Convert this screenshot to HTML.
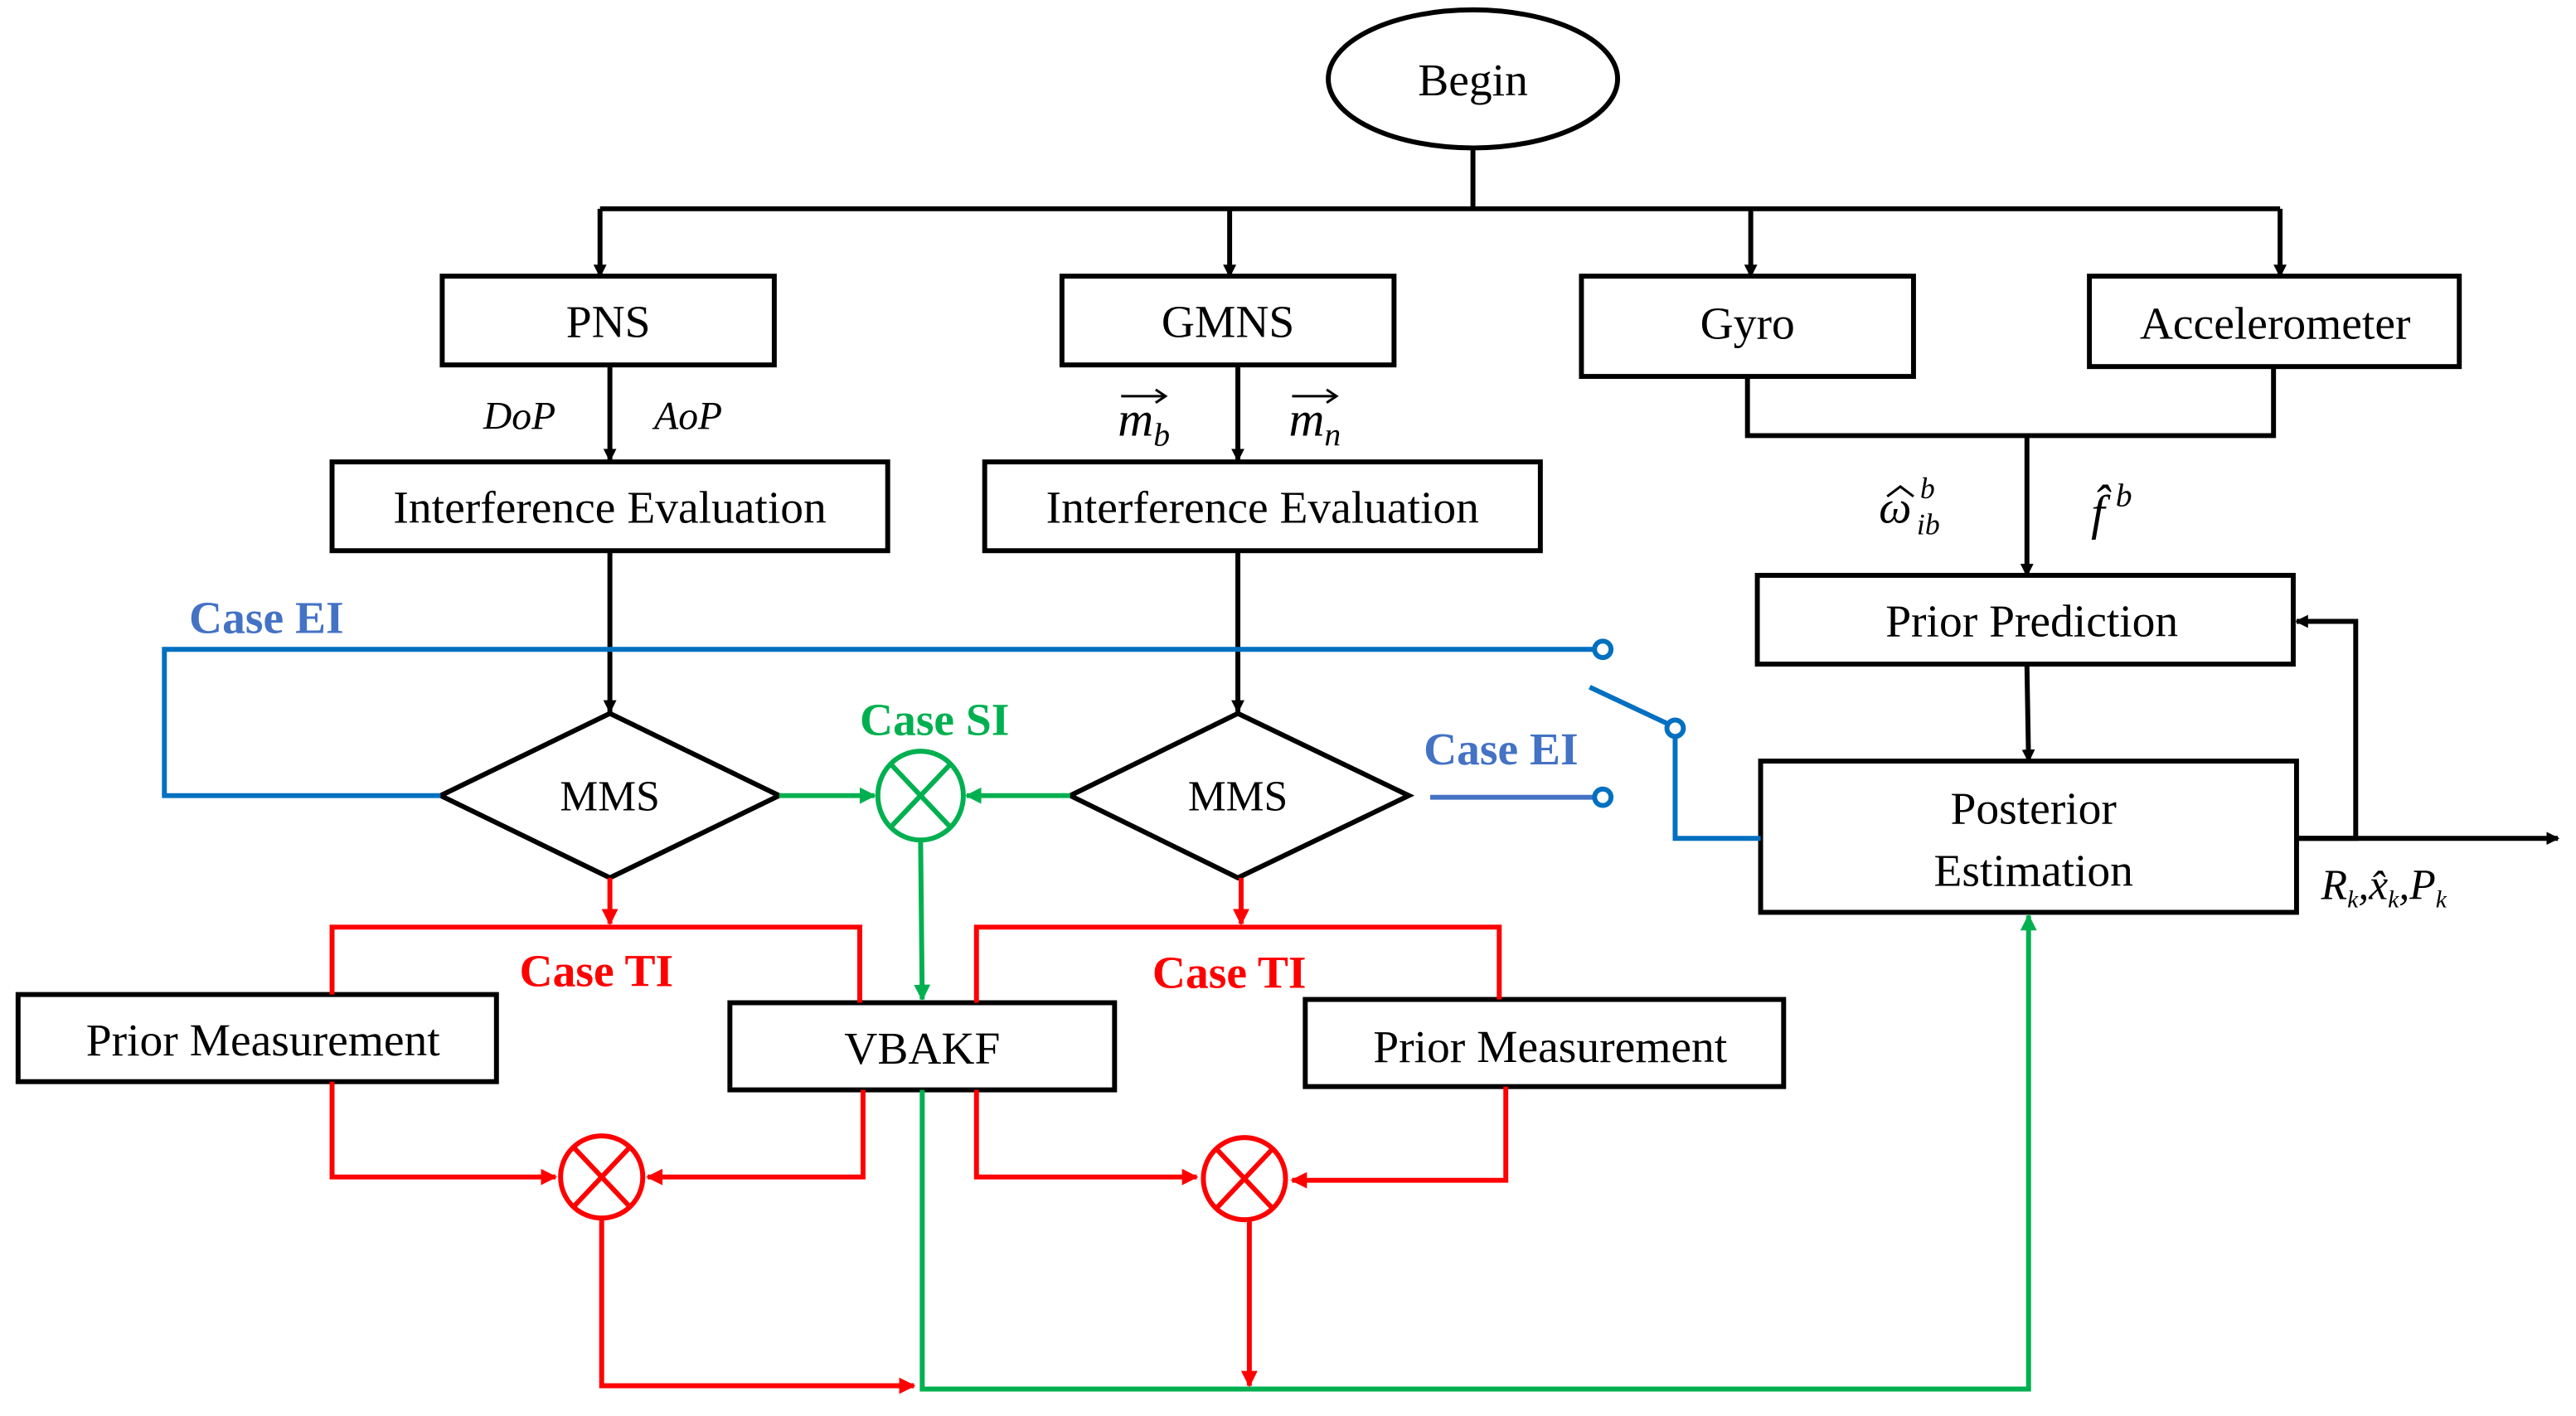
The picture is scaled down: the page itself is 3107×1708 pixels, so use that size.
<!DOCTYPE html>
<html><head><meta charset="utf-8"><style>html,body{margin:0;padding:0;background:#fff}svg{display:block}svg text{font-family:"Liberation Serif","Times New Roman",serif}</style></head>
<body>
<svg width="3107" height="1708" viewBox="0 0 1567 861.4" preserveAspectRatio="none" xmlns="http://www.w3.org/2000/svg">
<defs>
<marker id="ak" markerWidth="8" markerHeight="8" refX="7" refY="4" orient="auto" markerUnits="userSpaceOnUse"><path d="M0,0 L8,4 L0,8 Z" fill="#000"/></marker>
<marker id="ar" markerWidth="10" markerHeight="10" refX="9" refY="5" orient="auto" markerUnits="userSpaceOnUse"><path d="M0,0 L10,5 L0,10 Z" fill="#f00"/></marker>
<marker id="ag" markerWidth="10" markerHeight="10" refX="9" refY="5" orient="auto" markerUnits="userSpaceOnUse"><path d="M0,0 L10,5 L0,10 Z" fill="#00b050"/></marker>
</defs>
<g stroke="#000" stroke-width="3" fill="none">
<ellipse cx="896" cy="48" rx="88" ry="42"/>
<line x1="896" y1="90" x2="896" y2="127"/>
<line x1="365" y1="127" x2="1387" y2="127"/>
</g>
<g stroke="#000" stroke-width="3" fill="none" marker-end="url(#ak)">
<line x1="365" y1="127" x2="365" y2="168"/>
<line x1="748" y1="127" x2="748" y2="168"/>
<line x1="1065" y1="127" x2="1065" y2="168"/>
<line x1="1387" y1="127" x2="1387" y2="168"/>
<line x1="371" y1="222" x2="371" y2="280"/>
<line x1="753" y1="222" x2="753" y2="280"/>
<line x1="1233" y1="265" x2="1233" y2="350"/>
<line x1="371" y1="335" x2="371" y2="433"/>
<line x1="753" y1="335" x2="753" y2="433"/>
<line x1="1233" y1="405" x2="1234" y2="463"/>
<polyline points="1398,510 1433,510 1433,378 1397,378"/>
<line x1="1398" y1="510" x2="1556" y2="510"/>
</g>
<g stroke="#000" stroke-width="3" fill="none">
<polyline points="1063,229 1063,265 1383,265 1383,223"/>
<rect x="269" y="168" width="202" height="54"/>
<rect x="646" y="168" width="202" height="54"/>
<rect x="962" y="168" width="202" height="61"/>
<rect x="1271" y="168" width="225" height="55"/>
<rect x="202" y="281" width="338" height="54"/>
<rect x="599" y="281" width="338" height="54"/>
<rect x="1069" y="350" width="326" height="54"/>
<rect x="1071" y="463" width="326" height="92"/>
<polygon points="371,434 474,484 371,534 268,484"/>
<polygon points="753,434 857,484 753,534 651,484"/>
<rect x="11" y="605" width="291" height="53"/>
<rect x="444" y="610" width="234" height="53"/>
<rect x="794" y="608" width="291" height="53"/>
</g>
<g stroke="#0070c0" stroke-width="3" fill="none">
<polyline points="268,484 100,484 100,395 970,395"/>
<circle cx="975" cy="395" r="5" fill="#fff"/>
<line x1="967" y1="418" x2="1016" y2="441"/>
<circle cx="1019" cy="443" r="5" fill="#fff"/>
<polyline points="1019,448 1019,510 1071,510"/>
<line x1="870" y1="485" x2="970" y2="485" stroke="#4472c4"/>
<circle cx="975" cy="485" r="5" fill="#fff"/>
</g>
<g stroke="#00b050" stroke-width="3" fill="none">
<line x1="474" y1="484" x2="532" y2="484" marker-end="url(#ag)"/>
<line x1="651" y1="484" x2="588" y2="484" marker-end="url(#ag)"/>
<ellipse cx="560" cy="484" rx="26" ry="27"/>
<line x1="542" y1="465" x2="578" y2="503"/><line x1="578" y1="465" x2="542" y2="503"/>
<line x1="560" y1="511" x2="561" y2="608" marker-end="url(#ag)"/>
<polyline points="561,663 561,845 1234,845 1234,557" marker-end="url(#ag)"/>
</g>
<g stroke="#f00" stroke-width="3" fill="none">
<line x1="371" y1="534" x2="371" y2="562" marker-end="url(#ar)"/>
<line x1="755" y1="534" x2="755" y2="562" marker-end="url(#ar)"/>
<polyline points="202,605 202,564 523,564 523,610"/>
<polyline points="594,610 594,564 912,564 912,608"/>
<polyline points="202,658 202,716 338,716" marker-end="url(#ar)"/>
<polyline points="525,663 525,716 394,716" marker-end="url(#ar)"/>
<polyline points="594,663 594,716 728,716" marker-end="url(#ar)"/>
<polyline points="916,661 916,718 786,718" marker-end="url(#ar)"/>
<ellipse cx="366" cy="716" rx="25" ry="25"/>
<line x1="349" y1="698" x2="383" y2="734"/><line x1="383" y1="698" x2="349" y2="734"/>
<ellipse cx="757" cy="717" rx="25" ry="25"/>
<line x1="740" y1="699" x2="774" y2="735"/><line x1="774" y1="699" x2="740" y2="735"/>
<polyline points="366,741 366,843 556,843" marker-end="url(#ar)"/>
<line x1="760" y1="742" x2="760" y2="843" marker-end="url(#ar)"/>
</g>
<g font-size="28" fill="#000" text-anchor="middle">
<text x="896" y="58">Begin</text>
<text x="370" y="205">PNS</text>
<text x="747" y="205">GMNS</text>
<text x="1063" y="206">Gyro</text>
<text x="1384" y="206">Accelerometer</text>
<text x="371" y="318">Interference Evaluation</text>
<text x="768" y="318">Interference Evaluation</text>
<text x="1236" y="387">Prior Prediction</text>
<text x="1237" y="501">Posterior</text>
<text x="1237" y="539">Estimation</text>
<text x="371" y="493" font-size="26">MMS</text>
<text x="753" y="493" font-size="26">MMS</text>
<text x="160" y="642">Prior Measurement</text>
<text x="561" y="647">VBAKF</text>
<text x="943" y="646">Prior Measurement</text>
</g>
<g font-size="24" font-style="italic" fill="#000">
<text x="294" y="261">DoP</text>
<text x="398" y="261">AoP</text>
<text x="680" y="265" font-size="30">m<tspan font-size="20" dy="6">b</tspan></text>
<text x="784" y="265" font-size="30">m<tspan font-size="20" dy="6">n</tspan></text>
<text x="1143" y="318" font-size="28">ω</text>
<text x="1168" y="303" font-size="18">b</text>
<text x="1166" y="325" font-size="18">ib</text>
<text x="1272" y="322" font-size="30">f̂</text>
<text x="1287" y="308" font-size="20">b</text>
<text x="1412" y="547" font-size="26">R<tspan font-size="15" dy="5">k</tspan><tspan dy="-5">,x̂</tspan><tspan font-size="15" dy="5">k</tspan><tspan dy="-5">,P</tspan><tspan font-size="15" dy="5">k</tspan></text>
</g>
<g stroke="#000" stroke-width="1.5" fill="none">
<line x1="682" y1="241" x2="708" y2="241"/><path d="M703,237 L709,241 L703,245"/>
<line x1="786" y1="241" x2="812" y2="241"/><path d="M807,237 L813,241 L807,245"/>
<path d="M1148,302 L1156,296 L1164,302"/>
</g>
<g font-size="28" font-weight="bold">
<text x="115" y="385" fill="#4472c4">Case EI</text>
<text x="866" y="465" fill="#4472c4">Case EI</text>
<text x="523" y="447" fill="#00b050">Case SI</text>
<text x="316" y="600" fill="#f00">Case TI</text>
<text x="701" y="601" fill="#f00">Case TI</text>
</g>
</svg>
</body></html>
